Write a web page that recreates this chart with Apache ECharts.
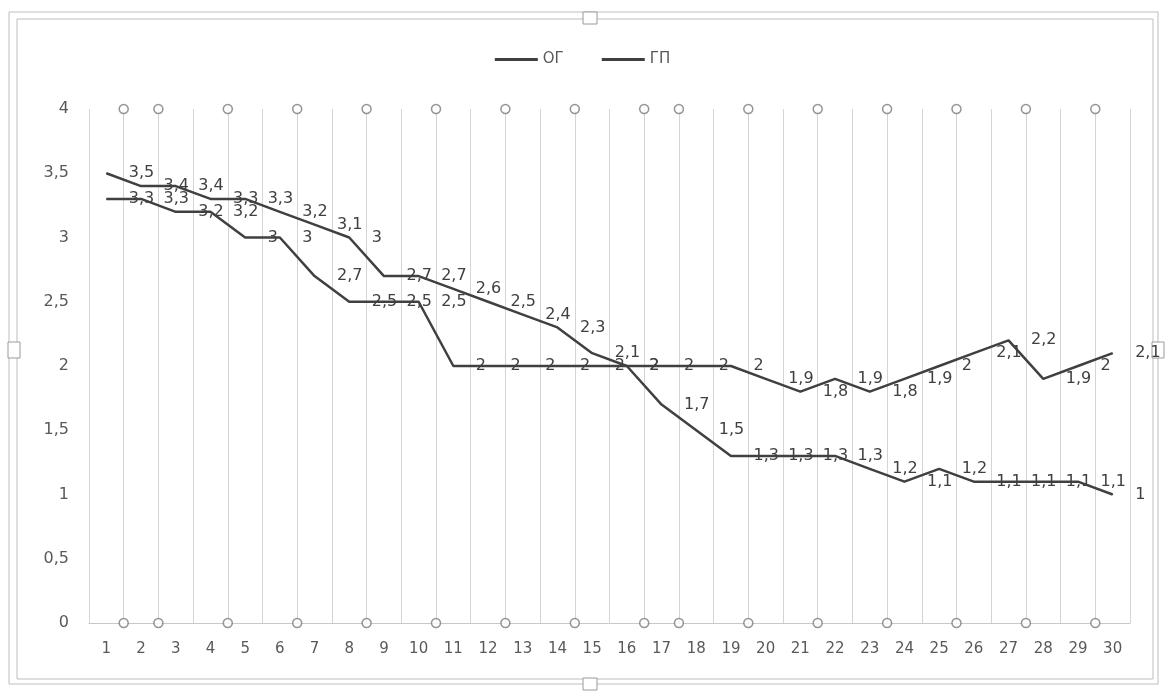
<!DOCTYPE html>
<html>
<head>
<meta charset="utf-8">
<script src="https://cdn.jsdelivr.net/npm/echarts@6/dist/echarts.min.js"></script>
<style>
  html, body { margin: 0; padding: 0; background: #fff; }
  #chart { width: 1165px; height: 691px; }
</style>
</head>
<body>
<div id="chart"></div>
<script>
// категории (номера наблюдений)
const categories = ['1','2','3','4','5','6','7','8','9','10','11','12','13','14','15',
  '16','17','18','19','20','21','22','23','24','25','26','27','28','29','30']

const ogValues = [3.5, 3.4, 3.4, 3.3, 3.3, 3.2, 3.1, 3.0, 2.7, 2.7, 2.6, 2.5, 2.4, 2.3, 2.1,
  2.0, 1.7, 1.5, 1.3, 1.3, 1.3, 1.3, 1.2, 1.1, 1.2, 1.1, 1.1, 1.1, 1.1, 1.0]

const gpValues = [3.3, 3.3, 3.2, 3.2, 3.0, 3.0, 2.7, 2.5, 2.5, 2.5, 2.0, 2.0, 2.0, 2.0, 2.0,
  2.0, 2.0, 2.0, 2.0, 1.9, 1.8, 1.9, 1.8, 1.9, 2.0, 2.1, 2.2, 1.9, 2.0, 2.1]

// кружки на границах категорий (сверху и снизу)
const markerBounds = [1.5, 2.5, 4.5, 6.5, 8.5, 10.5, 12.5, 14.5, 16.5, 17.5, 19.5, 21.5, 23.5, 25.5, 27.5, 29.5]
const markerLevels = [0, 4]

const yTicks = { min: 0, max: 4, interval: 0.5 }

const comma = (v) => String(v).replace('.', ',')

const lineColor = '#404040'
const textColor = '#595959'
const font = 'DejaVu Sans'

const markerData = []
markerBounds.forEach(x => markerLevels.forEach(y => markerData.push([x, y])))

const chart = echarts.init(document.getElementById('chart'))

const makeLine = (name, values) => ({
  name: name,
  type: 'line',
  data: values,
  symbol: 'circle',
  symbolSize: 1,
  showSymbol: true,
  z: 3,
  lineStyle: { color: lineColor, width: 2.5 },
  itemStyle: { color: lineColor },
  label: {
    show: true,
    position: 'right',
    distance: 22,
    formatter: (p) => comma(p.value),
    color: lineColor,
    fontFamily: font,
    fontSize: 16
  },
  labelLayout: { hideOverlap: false }
})

chart.setOption({
  backgroundColor: '#fff',
  animation: false,
  textStyle: { fontFamily: font },
  legend: {
    data: ['ОГ', 'ГП'],
    top: 47,
    left: 'center',
    icon: 'rect',
    itemWidth: 43,
    itemHeight: 3,
    itemGap: 38,
    textStyle: { color: textColor, fontSize: 15, fontFamily: font }
  },
  grid: { left: 89, right: 35, top: 109, bottom: 68 },
  xAxis: [
    {
      type: 'category',
      data: categories,
      boundaryGap: true,
      axisLine: { show: true, lineStyle: { color: '#c8c8c8', width: 1 } },
      axisTick: { show: false },
      splitLine: { show: true, lineStyle: { color: '#d4d4d4', width: 1 } },
      axisLabel: { color: textColor, fontSize: 15, fontFamily: font, margin: 19, interval: 0 }
    },
    {
      type: 'value',
      min: 0.5,
      max: 30.5,
      show: false
    }
  ],
  yAxis: {
    type: 'value',
    min: yTicks.min,
    max: yTicks.max,
    interval: yTicks.interval,
    axisLine: { show: false },
    axisTick: { show: false },
    splitLine: { show: false },
    axisLabel: { color: textColor, fontSize: 16, fontFamily: font, margin: 20, formatter: comma }
  },
  graphic: [
    { type: 'rect', shape: { x: 9, y: 12, width: 1149, height: 672 }, style: { fill: 'none', stroke: '#bdbdbd', lineWidth: 1 }, z: 0 },
    { type: 'rect', shape: { x: 17, y: 19, width: 1136, height: 660 }, style: { fill: 'none', stroke: '#bdbdbd', lineWidth: 1 }, z: 0 },
    { type: 'rect', shape: { x: 583, y: 12, width: 14, height: 12 }, style: { fill: '#fff', stroke: '#9a9a9a', lineWidth: 1 }, z: 1 },
    { type: 'rect', shape: { x: 583, y: 678, width: 14, height: 12 }, style: { fill: '#fff', stroke: '#9a9a9a', lineWidth: 1 }, z: 1 },
    { type: 'rect', shape: { x: 8, y: 342, width: 12, height: 16 }, style: { fill: '#fff', stroke: '#9a9a9a', lineWidth: 1 }, z: 1 },
    { type: 'rect', shape: { x: 1152, y: 342, width: 12, height: 16 }, style: { fill: '#fff', stroke: '#9a9a9a', lineWidth: 1 }, z: 1 }
  ],
  series: [
    {
      name: 'bounds',
      type: 'scatter',
      xAxisIndex: 1,
      data: markerData,
      symbol: 'circle',
      symbolSize: 9,
      z: 2,
      silent: true,
      itemStyle: { color: '#fff', borderColor: '#7a7a7a', borderWidth: 1.5 }
    },
    makeLine('ОГ', ogValues),
    makeLine('ГП', gpValues)
  ]
})
</script>
</body>
</html>
